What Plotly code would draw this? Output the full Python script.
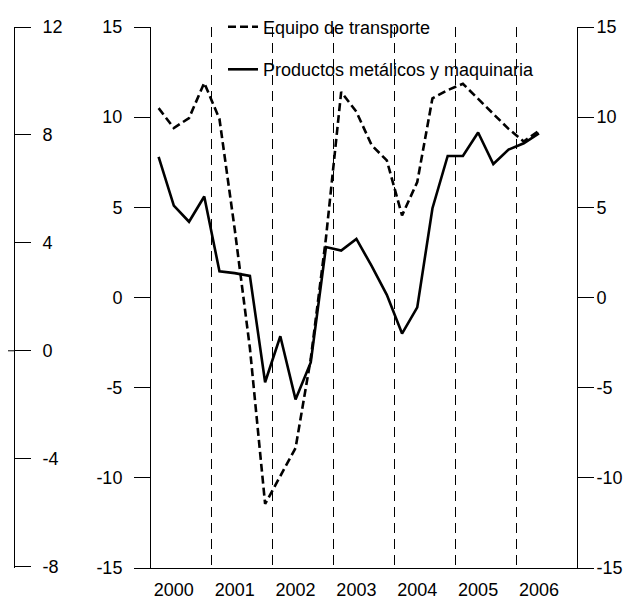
import plotly.graph_objects as go

# ---- data (quarterly, 2000T1 .. 2006T2) ----
years = [2000, 2001, 2002, 2003, 2004, 2005, 2006]
year_labels = ["2000", "2001", "2002", "2003", "2004", "2005", "2006"]
quarter_year = [2000]*4 + [2001]*4 + [2002]*4 + [2003]*4 + [2004]*4 + [2005]*4 + [2006]*2
quarter_num = [1, 2, 3, 4]*6 + [1, 2]

equipo_transporte = [10.5, 9.4, 9.95, 11.9,
                     9.9, 3.8, -2.8, -11.45,
                     -9.9, -8.35, -3.4, 3.3,
                     11.4, 10.3, 8.45, 7.6,
                     4.55, 6.4, 11.05, 11.5,
                     11.85, 11.0, 10.2, 9.35,
                     8.65, 9.25]
productos_metalicos = [7.8, 5.1, 4.2, 5.6,
                       1.45, 1.35, 1.2, -4.7,
                       -2.15, -5.65, -3.6, 2.8,
                       2.6, 3.25, 1.75, 0.15,
                       -2.0, -0.55, 4.95, 7.85,
                       7.85, 9.15, 7.4, 8.2,
                       8.55, 9.1]

main_ticks = [-15, -10, -5, 0, 5, 10, 15]
main_tick_labels = ["-15", "-10", "-5", "0", "5", "10", "15"]
outer_ticks = [-8, -4, 0, 4, 8, 12]
outer_tick_labels = ["-8", "-4", "0", "4", "8", "12"]

# ---- layout geometry (page has an 8px body margin) ----
OFF = 8
W, H = 635 - OFF, 601 - OFF
ML, MR, MT, MB = 0, 58, 22 - OFF, 33
plot_w = W - ML - MR
plot_h = H - MT - MB
x_left_px = 151 - OFF
outer_px = 14 - OFF
legend_left_px = 223 - OFF

xq = [y + (q - 0.5) / 4 for y, q in zip(quarter_year, quarter_num)]
xtick = [y + 0.375 for y in years]

FONT = "Liberation Sans, Arial, sans-serif"
fs = 18

fig = go.Figure()
fig.add_trace(go.Scatter(
    x=xq, y=equipo_transporte, mode="lines", name="Equipo de transporte",
    line=dict(color="black", width=2.6, dash="8px,4px"), legend="legend"))
fig.add_trace(go.Scatter(
    x=xq, y=productos_metalicos, mode="lines", name="Productos metálicos y maquinaria",
    line=dict(color="black", width=2.6), legend="legend2"))

axis_common = dict(showline=True, linecolor="black", linewidth=1, ticks="outside",
                   tickcolor="black", tickwidth=1, ticklen=16, showgrid=False,
                   zeroline=False, automargin=False, tickmode="array",
                   tickfont=dict(family=FONT, size=fs, color="black"))

fig.update_layout(
    width=W, height=H,
    margin=dict(l=ML, r=MR, t=MT, b=MB, pad=0),
    paper_bgcolor="white", plot_bgcolor="white",
    font=dict(family=FONT, size=fs, color="black"),
    xaxis=dict(domain=[x_left_px / plot_w, 1], range=[2000, 2007],
               showline=True, linecolor="black", linewidth=1,
               tickmode="array", tickvals=xtick, ticktext=year_labels,
               ticks="outside", ticklen=5, tickcolor="rgba(0,0,0,0)",
               showgrid=False, zeroline=False, automargin=False,
               tickfont=dict(family=FONT, size=fs, color="black"),
               minor=dict(tick0=2000, dtick=1, showgrid=True, gridcolor="black",
                          gridwidth=1, griddash="10px,6px", ticks="")),
    yaxis=dict(range=[-15, 15], tickvals=main_ticks, ticktext=main_tick_labels,
               side="left", anchor="x", ticklabelstandoff=8, **axis_common),
    yaxis2=dict(range=[-15, 15], tickvals=main_ticks, ticktext=main_tick_labels,
                overlaying="y", side="right", anchor="x", ticklabelstandoff=-1,
                **axis_common),
    yaxis3=dict(range=[-8.05, 12], tickvals=outer_ticks, ticktext=outer_tick_labels,
                overlaying="y", side="right", anchor="free",
                position=outer_px / plot_w, ticklabelstandoff=8, **axis_common),
    legend=dict(x=legend_left_px / plot_w, y=1.0, xanchor="left", yanchor="middle",
                bgcolor="rgba(0,0,0,0)", borderwidth=0,
                font=dict(family=FONT, size=fs, color="black")),
    legend2=dict(x=legend_left_px / plot_w, y=1 - (65 - 22) / plot_h, xanchor="left",
                 yanchor="middle", bgcolor="rgba(0,0,0,0)", borderwidth=0,
                 font=dict(family=FONT, size=fs, color="black")),
    showlegend=True,
)

# invisible anchor traces so the secondary axes are drawn
fig.add_trace(go.Scatter(x=xq, y=productos_metalicos, yaxis="y2", mode="lines",
                         line=dict(width=0), opacity=0, showlegend=False, hoverinfo="skip"))
fig.add_trace(go.Scatter(x=xq, y=productos_metalicos, yaxis="y3", mode="lines",
                         line=dict(width=0), opacity=0, showlegend=False, hoverinfo="skip"))

# small extension of the outer axis' zero tick to the left edge
fig.add_shape(type="line", xref="paper", x0=0, x1=outer_px / plot_w,
              yref="y3", y0=outer_ticks[2], y1=outer_ticks[2],
              line=dict(color="black", width=1))

fig.write_html("out.html")
